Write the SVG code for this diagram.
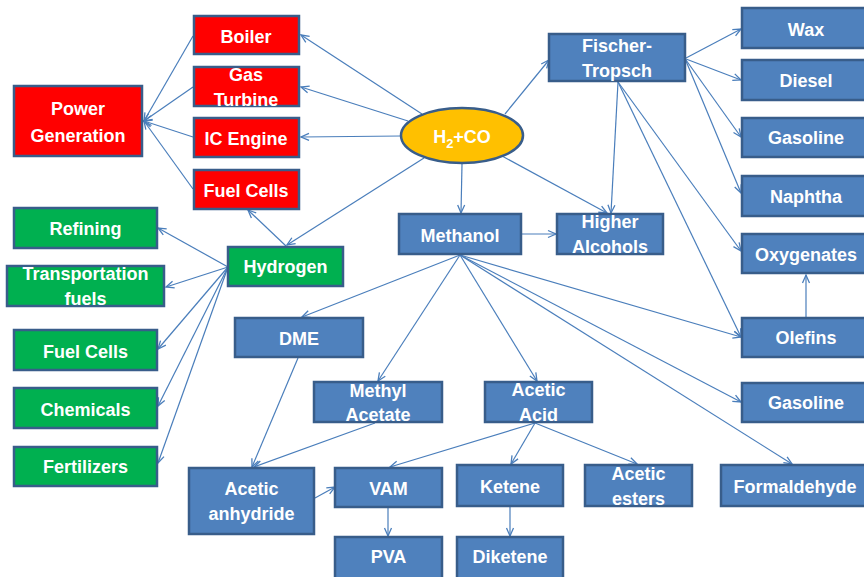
<svg xmlns="http://www.w3.org/2000/svg" width="864" height="577" viewBox="0 0 864 577">
<style>
.n rect,.n ellipse{stroke:#385D8A;stroke-width:2.5}
.b rect{fill:#4F81BD}
.r rect{fill:#FF0000}
.g rect{fill:#00B050}
text{font-family:"Liberation Sans",Arial,sans-serif;font-weight:bold;font-size:18px;fill:#fff;text-anchor:middle}
#edges line{stroke:#4A7EBB;stroke-width:1.2;marker-end:url(#ah)}
</style>
<defs>
<marker id="ah" markerUnits="userSpaceOnUse" viewBox="-10 -6 12 12" refX="0" refY="0" markerWidth="12" markerHeight="12" orient="auto">
<path d="M-8,-3.5 L0,0 L-8,3.5" fill="none" stroke="#4A7EBB" stroke-width="1.3"/>
</marker>
</defs>
<rect width="864" height="577" fill="#fff"/>
<g id="edges">
<line x1="193" y1="36" x2="144" y2="121"/>
<line x1="193" y1="87" x2="144" y2="121"/>
<line x1="193" y1="137" x2="144" y2="121"/>
<line x1="193" y1="189" x2="144" y2="121"/>
<line x1="422" y1="114" x2="301" y2="35"/>
<line x1="408" y1="121" x2="301" y2="87"/>
<line x1="401" y1="136" x2="301" y2="137"/>
<line x1="424" y1="158" x2="287" y2="245"/>
<line x1="462" y1="164" x2="461" y2="213"/>
<line x1="505" y1="114" x2="549" y2="60"/>
<line x1="502" y1="156" x2="607" y2="213"/>
<line x1="618" y1="82" x2="611" y2="213"/>
<line x1="686" y1="58" x2="741" y2="29"/>
<line x1="686" y1="59" x2="741" y2="80"/>
<line x1="686" y1="60" x2="741" y2="137"/>
<line x1="686" y1="61" x2="741" y2="193"/>
<line x1="618" y1="82" x2="741" y2="251"/>
<line x1="618" y1="82" x2="741" y2="337"/>
<line x1="806" y1="317" x2="806" y2="275"/>
<line x1="522" y1="234" x2="556" y2="234"/>
<line x1="228" y1="267" x2="158" y2="228"/>
<line x1="228" y1="267" x2="166" y2="287"/>
<line x1="228" y1="267" x2="158" y2="349"/>
<line x1="228" y1="267" x2="158" y2="406"/>
<line x1="228" y1="267" x2="158" y2="463"/>
<line x1="286" y1="246" x2="248" y2="210"/>
<line x1="460" y1="255" x2="302" y2="317"/>
<line x1="460" y1="255" x2="378" y2="381"/>
<line x1="460" y1="255" x2="537" y2="381"/>
<line x1="460" y1="255" x2="741" y2="337"/>
<line x1="460" y1="255" x2="741" y2="402"/>
<line x1="460" y1="255" x2="792" y2="464"/>
<line x1="298" y1="358" x2="252" y2="467"/>
<line x1="375" y1="423" x2="254" y2="467"/>
<line x1="535" y1="423" x2="390" y2="467"/>
<line x1="535" y1="423" x2="511" y2="464"/>
<line x1="535" y1="423" x2="637" y2="464"/>
<line x1="315" y1="498" x2="335" y2="487"/>
<line x1="388" y1="508" x2="388" y2="536"/>
<line x1="510" y1="507" x2="510" y2="536"/>
</g>
<g id="boiler" class="n r"><rect x="194" y="16" width="105" height="38"/><text x="246" y="43">Boiler</text></g>
<g id="gasturbine" class="n r"><rect x="194" y="67" width="105" height="39"/><text x="246" y="81">Gas</text><text x="246" y="106">Turbine</text></g>
<g id="icengine" class="n r"><rect x="194" y="118" width="105" height="39"/><text x="246" y="145">IC Engine</text></g>
<g id="fuelcells1" class="n r"><rect x="194" y="170" width="105" height="39"/><text x="246" y="197">Fuel Cells</text></g>
<g id="powergen" class="n r"><rect x="14" y="86" width="128" height="70"/><text x="78" y="115">Power</text><text x="78" y="142">Generation</text></g>
<g id="refining" class="n g"><rect x="14" y="208" width="143" height="40"/><text x="85.5" y="235">Refining</text></g>
<g id="transport" class="n g"><rect x="7" y="266" width="157" height="40"/><text x="85.5" y="280">Transportation</text><text x="85.5" y="305">fuels</text></g>
<g id="fuelcells2" class="n g"><rect x="14" y="330" width="143" height="40"/><text x="85.5" y="358">Fuel Cells</text></g>
<g id="chemicals" class="n g"><rect x="14" y="388" width="143" height="40"/><text x="85.5" y="416">Chemicals</text></g>
<g id="fertilizers" class="n g"><rect x="14" y="447" width="143" height="39"/><text x="85.5" y="473">Fertilizers</text></g>
<g id="hydrogen" class="n g"><rect x="228" y="247" width="115" height="39"/><text x="285.5" y="273">Hydrogen</text></g>
<g id="syngas" class="n"><ellipse cx="462" cy="135.5" rx="61" ry="27.5" fill="#FFC000" stroke-width="3"/><text x="462" y="143">H<tspan dy="5" font-size="13">2</tspan><tspan dy="-5">+CO</tspan></text></g>
<g id="ft" class="n b"><rect x="549" y="34" width="136" height="47"/><text x="617" y="52">Fischer-</text><text x="617" y="77">Tropsch</text></g>
<g id="wax" class="n b"><rect x="742" y="8" width="130" height="40"/><text x="806" y="36">Wax</text></g>
<g id="diesel" class="n b"><rect x="742" y="60" width="130" height="40"/><text x="806" y="87">Diesel</text></g>
<g id="gasoline1" class="n b"><rect x="742" y="118" width="130" height="39"/><text x="806" y="144">Gasoline</text></g>
<g id="naphtha" class="n b"><rect x="742" y="176" width="130" height="40"/><text x="806" y="203">Naphtha</text></g>
<g id="oxygenates" class="n b"><rect x="742" y="234" width="130" height="39"/><text x="806" y="261">Oxygenates</text></g>
<g id="olefins" class="n b"><rect x="742" y="318" width="130" height="39"/><text x="806" y="344">Olefins</text></g>
<g id="gasoline2" class="n b"><rect x="742" y="383" width="130" height="39"/><text x="806" y="409">Gasoline</text></g>
<g id="formaldehyde" class="n b"><rect x="721" y="465" width="150" height="41"/><text x="795" y="493">Formaldehyde</text></g>
<g id="methanol" class="n b"><rect x="399" y="214" width="122" height="40"/><text x="460" y="242">Methanol</text></g>
<g id="higheralcohols" class="n b"><rect x="557" y="214" width="106" height="40"/><text x="610" y="228">Higher</text><text x="610" y="253">Alcohols</text></g>
<g id="dme" class="n b"><rect x="235" y="318" width="128" height="39"/><text x="299" y="345">DME</text></g>
<g id="methylacetate" class="n b"><rect x="314" y="382" width="128" height="40"/><text x="378" y="397">Methyl</text><text x="378" y="421">Acetate</text></g>
<g id="aceticacid" class="n b"><rect x="485" y="382" width="107" height="40"/><text x="538.5" y="396">Acetic</text><text x="538.5" y="421">Acid</text></g>
<g id="aceticanhydride" class="n b"><rect x="189" y="468" width="125" height="66"/><text x="251.5" y="495">Acetic</text><text x="251.5" y="520">anhydride</text></g>
<g id="vam" class="n b"><rect x="335" y="468" width="107" height="39"/><text x="388.5" y="495">VAM</text></g>
<g id="pva" class="n b"><rect x="335" y="537" width="107" height="44"/><text x="388.5" y="563">PVA</text></g>
<g id="ketene" class="n b"><rect x="457" y="465" width="106" height="41"/><text x="510" y="493">Ketene</text></g>
<g id="diketene" class="n b"><rect x="457" y="537" width="106" height="44"/><text x="510" y="563">Diketene</text></g>
<g id="aceticesters" class="n b"><rect x="585" y="465" width="107" height="41"/><text x="638.5" y="480">Acetic</text><text x="638.5" y="505">esters</text></g>
</svg>
